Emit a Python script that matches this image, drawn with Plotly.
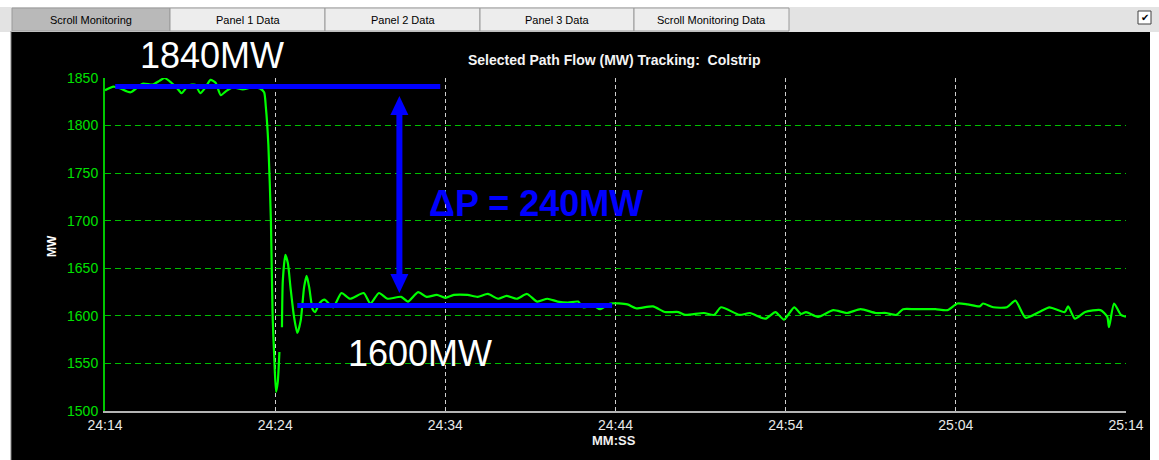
import plotly.graph_objects as go

# ---------------- data (seconds after 24:14, MW) ----------------
t_sec = [0, 0.5, 0.9, 1.5, 2.2, 2.8, 3.2, 3.5, 3.9, 4.3, 4.5, 4.9, 5.3, 5.6, 5.9,
         6.2, 6.5, 6.8, 7.1, 7.5, 8.1, 8.6, 9.1, 9.35, 9.45, 9.6, 9.75, 9.85, 9.95,
         10.05, 10.15, 10.25, 10.32,
         10.4, 10.45, 10.6, 10.75, 10.9, 11.1, 11.3, 11.5, 11.7, 11.85, 12.0, 12.2,
         12.35, 12.6, 12.9, 13.4, 13.9, 14.4, 15.2, 15.6, 16.1, 16.6, 17.4, 17.8,
         18.4, 18.9, 19.5, 20.0, 20.5, 21.3, 21.9, 22.5, 23.1, 23.6, 24.2, 24.8,
         25.4, 26.0, 26.6, 27.2, 27.8, 28.1, 28.7, 29.1, 29.7, 30.7, 31.2, 32.2,
         32.9, 33.7, 34.1, 35.2, 35.8, 36.2, 37.3, 37.9, 38.8, 39.4, 39.9, 40.5,
         40.9, 41.2, 41.9, 42.8, 43.6, 44.4, 45.3, 45.9, 46.5, 46.9, 47.6, 48.8,
         49.5, 50.1, 50.7, 51.4, 51.6, 52.2, 53.0, 53.5, 54.1, 54.9, 55.5, 56.4,
         56.6, 57.0, 57.6, 58.5, 58.9, 59.0, 59.3, 59.7, 60.0]
flow_mw = [1837, 1841, 1839, 1835, 1844, 1843, 1847, 1850, 1845, 1838, 1834, 1842,
           1843, 1834, 1840, 1848, 1845, 1832, 1836, 1840, 1838, 1840, 1839, 1835,
           1820, 1780, 1700, 1600, 1555, 1520, 1530, 1562, None,
           1588, 1637, 1664, 1655, 1630, 1600, 1582, 1595, 1630, 1642, 1630, 1607,
           1604, 1613, 1617, 1609, 1624, 1618, 1624, 1613, 1624, 1618, 1620, 1615,
           1625, 1620, 1622, 1619, 1622, 1622, 1620, 1623, 1618, 1621, 1618, 1623,
           1615, 1618, 1615, 1614, 1615, 1609, 1611, 1607, 1613, 1612, 1608, 1610,
           1604, 1604, 1601, 1603, 1601, 1609, 1601, 1603, 1597, 1604, 1596, 1609,
           1602, 1604, 1599, 1606, 1603, 1607, 1603, 1603, 1601, 1607, 1607, 1607,
           1606, 1613, 1612, 1610, 1613, 1609, 1609, 1616, 1598, 1604, 1609, 1604,
           1610, 1597, 1604, 1606, 1599, 1588, 1613, 1601, 1599]

tick_secs = [0, 10, 20, 30, 40, 50, 60]
tick_labels = ["24:14", "24:24", "24:34", "24:44", "24:54", "25:04", "25:14"]

# annotation values
hi_level, hi_t0, hi_t1 = 1841, 0.6, 19.7
lo_level, lo_t0, lo_t1 = 1611, 11.3, 29.8
arrow_t, arrow_top, arrow_bot = 17.3, 1831, 1624

tab_names = ["Scroll Monitoring", "Panel 1 Data", "Panel 2 Data", "Panel 3 Data",
             "Scroll Monitoring Data"]

# ---------------- layout geometry ----------------
W, H = 1159, 460
L, R, T, B = 105, 1126, 78, 411
X0, X1, Y0, Y1 = 0, 60, 1500, 1850


def px(x):
    return (x - L) / (R - L)


def py(y):
    return (B - y) / (B - T)


sec_per_px = (X1 - X0) / (R - L)
mw_per_px = (Y1 - Y0) / (B - T)

fig = go.Figure()
fig.add_trace(go.Scatter(x=t_sec, y=flow_mw, mode="lines",
                         line=dict(color="#00ff00", width=2.2, shape="spline",
                                   smoothing=0.6),
                         connectgaps=False, hoverinfo="skip"))

shapes = []
# black panel
shapes.append(dict(type="rect", xref="paper", yref="paper", x0=px(11), x1=px(1150),
                   y0=py(462), y1=py(31), fillcolor="black", line=dict(width=0),
                   layer="below"))
# tab strip
shapes.append(dict(type="rect", xref="paper", yref="paper", x0=px(0), x1=px(1159),
                   y0=py(32), y1=py(7), fillcolor="#e3e3e3", line=dict(width=0),
                   layer="below"))
shapes.append(dict(type="line", xref="paper", yref="paper", x0=px(11), x1=px(11),
                   y0=py(462), y1=py(31), line=dict(color="#808080", width=1),
                   layer="below"))

annotations = []
tab_edges = [12, 170, 325, 480, 634, 789]
for i, name in enumerate(tab_names):
    a, b = tab_edges[i], tab_edges[i + 1]
    fill = "#b9b9b9" if i == 0 else "#ededed"
    shapes.append(dict(type="rect", xref="paper", yref="paper", x0=px(a), x1=px(b),
                       y0=py(31), y1=py(8), fillcolor=fill,
                       line=dict(color="#9a9a9a", width=1), layer="below"))
    annotations.append(dict(xref="paper", yref="paper", x=px((a + b) / 2), y=py(19.5),
                            text=name, showarrow=False, xanchor="center",
                            yanchor="middle",
                            font=dict(family="Liberation Sans, Arial", size=11,
                                      color="black")))
# checkbox
shapes.append(dict(type="rect", xref="paper", yref="paper", x0=px(1138), x1=px(1151),
                   y0=py(24), y1=py(11), fillcolor="white",
                   line=dict(color="#404040", width=1), layer="below"))
annotations.append(dict(xref="paper", yref="paper", x=px(1144.5), y=py(17.5),
                        text="✔", showarrow=False, xanchor="center", yanchor="middle",
                        font=dict(family="DejaVu Sans", size=10, color="black")))

# blue level lines
shapes.append(dict(type="line", xref="x", yref="y", x0=hi_t0, x1=hi_t1, y0=hi_level,
                   y1=hi_level, line=dict(color="#0000ff", width=5)))
shapes.append(dict(type="line", xref="x", yref="y", x0=lo_t0, x1=lo_t1, y0=lo_level,
                   y1=lo_level, line=dict(color="#0000ff", width=5)))
# double arrow
head_w = 9 * sec_per_px
head_h = 19 * mw_per_px
shapes.append(dict(type="line", xref="x", yref="y", x0=arrow_t, x1=arrow_t,
                   y0=arrow_bot + head_h * 0.8, y1=arrow_top - head_h * 0.8,
                   line=dict(color="#0000ff", width=6)))
shapes.append(dict(type="path", xref="x", yref="y",
                   path=f"M {arrow_t - head_w} {arrow_top - head_h} L {arrow_t + head_w} "
                        f"{arrow_top - head_h} L {arrow_t} {arrow_top} Z",
                   fillcolor="#0000ff", line=dict(width=0)))
shapes.append(dict(type="path", xref="x", yref="y",
                   path=f"M {arrow_t - head_w} {arrow_bot + head_h} L {arrow_t + head_w} "
                        f"{arrow_bot + head_h} L {arrow_t} {arrow_bot} Z",
                   fillcolor="#0000ff", line=dict(width=0)))

# texts
annotations += [
    dict(xref="paper", yref="paper", x=px(614), y=py(60),
         text="<b>Selected Path Flow (MW) Tracking:  Colstrip</b>", showarrow=False,
         xanchor="center", yanchor="middle",
         font=dict(family="Liberation Sans, Arial", size=14, color="#f4f4f4")),
    dict(xref="paper", yref="paper", x=px(212), y=py(56), text="1840MW",
         showarrow=False, xanchor="center", yanchor="middle",
         font=dict(family="Liberation Sans, Arial", size=36, color="white")),
    dict(xref="paper", yref="paper", x=px(420), y=py(353), text="1600MW",
         showarrow=False, xanchor="center", yanchor="middle",
         font=dict(family="Liberation Sans, Arial", size=36, color="white")),
    dict(xref="paper", yref="paper", x=px(536), y=py(203), text="<b>ΔP = 240MW</b>",
         showarrow=False, xanchor="center", yanchor="middle",
         font=dict(family="Liberation Sans, Arial", size=36, color="#0000ff")),
    dict(xref="paper", yref="paper", x=px(614), y=py(440), text="<b>MM:SS</b>",
         showarrow=False, xanchor="center", yanchor="middle",
         font=dict(family="Liberation Sans, Arial", size=13, color="#f0f0f0")),
    dict(xref="paper", yref="paper", x=px(52), y=py(246), text="<b>MW</b>",
         showarrow=False, xanchor="center", yanchor="middle", textangle=-90,
         font=dict(family="Liberation Sans, Arial", size=12, color="white")),
]

fig.update_layout(
    width=W, height=H,
    margin=dict(l=L, r=W - R, t=T, b=H - B, pad=0),
    paper_bgcolor="white", plot_bgcolor="black",
    showlegend=False, shapes=shapes, annotations=annotations,
    xaxis=dict(range=[X0, X1], tickvals=tick_secs, ticktext=tick_labels,
               showgrid=True, gridcolor="#d0d0d0", griddash="4px,3px", gridwidth=1,
               showline=True, linecolor="#b4b4b4", linewidth=2, zeroline=False,
               ticks="", ticklabelstandoff=0,
               tickfont=dict(family="Liberation Sans, Arial", size=14,
                             color="#e8e8e8")),
    yaxis=dict(range=[Y0, Y1], dtick=50, showgrid=True, gridcolor="#00c000",
               griddash="6px,4px", gridwidth=1, showline=True, linecolor="#00c800",
               linewidth=2, zeroline=False, ticks="", ticklabelstandoff=2,
               tickfont=dict(family="Liberation Sans, Arial", size=14,
                             color="#00e000")),
)

fig.write_html("out.html", config={"displayModeBar": False},
               post_script="document.body.style.margin='0px';"
                           "document.body.style.overflow='hidden';")
